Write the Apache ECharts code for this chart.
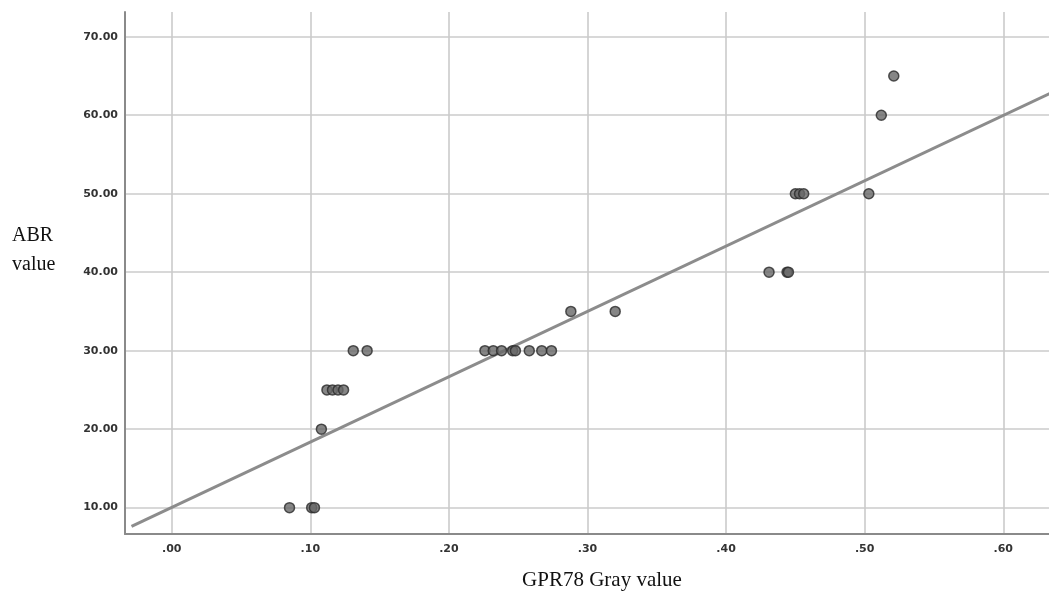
<!DOCTYPE html>
<html>
<head>
<meta charset="utf-8">
<script src="https://cdn.jsdelivr.net/npm/echarts@6/dist/echarts.min.js"></script>
<style>
html,body{margin:0;padding:0;background:#fff;}
#chart{width:1049px;height:591px;}
</style>
</head>
<body>
<div id="chart"></div>
<script>
// Observed data: GPR78 gray value (x) vs ABR value (y)
const grayValues = [0.085, 0.101, 0.103, 0.108, 0.112, 0.116, 0.120, 0.124, 0.131, 0.141,
  0.226, 0.232, 0.238, 0.246, 0.248, 0.258, 0.267, 0.274, 0.288, 0.320,
  0.431, 0.444, 0.445, 0.450, 0.453, 0.456, 0.503, 0.512, 0.521];
const abrValues = [10, 10, 10, 20, 25, 25, 25, 25, 30, 30,
  30, 30, 30, 30, 30, 30, 30, 30, 35, 35,
  40, 40, 40, 50, 50, 50, 50, 60, 65];
// Fit line endpoints (as drawn)
const fitX = [-0.029, 0.64];
const fitY = [7.6, 63.3];
// Axis ranges
const xRange = [-0.0337, 0.633];
const yRange = [6.64, 73.15];
const xTitle = 'GPR78 Gray value';
const yTitle = 'ABR\nvalue';

const points = grayValues.map((v, i) => [v, abrValues[i]]);
const fitLine = fitX.map((v, i) => [v, fitY[i]]);
const gridColors = ['rgba(0,0,0,0)', '#cbcbcb', '#cbcbcb', '#cbcbcb', '#cbcbcb', '#cbcbcb', '#cbcbcb', '#cbcbcb', 'rgba(0,0,0,0)'];

const chart = echarts.init(document.getElementById('chart'));
chart.setOption({
  animation: false,
  backgroundColor: '#fff',
  grid: {left: 125, right: 0, top: 12, bottom: 57, containLabel: false, outerBoundsMode: 'none'},
  xAxis: {
    type: 'value', min: xRange[0], max: xRange[1], splitNumber: 5,
    name: xTitle, nameLocation: 'middle', nameGap: 36,
    nameTextStyle: {fontFamily: 'Liberation Serif', fontSize: 21, color: '#111', padding: [0, 0, 0, 30]},
    axisLine: {show: true, onZero: false, lineStyle: {color: '#8a8a8a', width: 2}},
    axisTick: {show: false},
    splitLine: {show: true, lineStyle: {color: gridColors, width: 1.6}},
    axisLabel: {
      showMinLabel: false, showMaxLabel: false, margin: 10,
      fontFamily: 'DejaVu Sans', fontWeight: 'bold', fontSize: 11, color: '#333',
      formatter: v => (v.toFixed(2)).replace(/^0/, '')
    }
  },
  yAxis: {
    type: 'value', min: yRange[0], max: yRange[1], splitNumber: 5,
    name: yTitle, nameLocation: 'middle', nameGap: 113, nameRotate: 0,
    nameTextStyle: {fontFamily: 'Liberation Serif', fontSize: 20, color: '#111', align: 'left', verticalAlign: 'bottom', lineHeight: 29, padding: [0, 0, -6, 0]},
    axisLine: {show: true, onZero: false, lineStyle: {color: '#8a8a8a', width: 2}},
    axisTick: {show: false},
    splitLine: {show: true, lineStyle: {color: gridColors, width: 1.6}},
    axisLabel: {
      showMinLabel: false, showMaxLabel: false, margin: 7,
      fontFamily: 'DejaVu Sans', fontWeight: 'bold', fontSize: 11, color: '#333',
      formatter: v => v.toFixed(2)
    }
  },
  series: [
    {
      type: 'line', data: fitLine, symbol: 'none', silent: true, clip: true,
      lineStyle: {color: '#8c8c8c', width: 3}, z: 2
    },
    {
      type: 'scatter', data: points, symbolSize: 10,
      itemStyle: {color: '#686868', borderColor: '#2a2a2a', borderWidth: 1.5}, z: 3
    }
  ]
});
</script>
</body>
</html>
